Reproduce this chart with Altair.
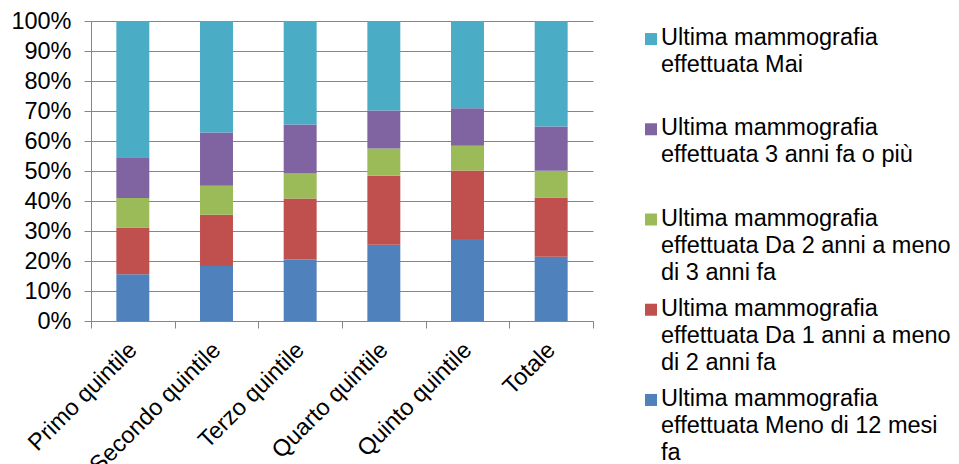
import altair as alt
import pandas as pd

# Categories (income quintiles) and the five mammography-recency groups
categories = ["Primo quintile", "Secondo quintile", "Terzo quintile",
              "Quarto quintile", "Quinto quintile", "Totale"]
series = ["Meno di 12 mesi", "Da 1 anni a meno di 2 anni fa",
          "Da 2 anni a meno di 3 anni fa", "3 anni fa o più", "Mai"]
legend_labels = [
    "Ultima mammografia\neffettuata Meno di 12 mesi\nfa",
    "Ultima mammografia\neffettuata Da 1 anni a meno\ndi 2 anni fa",
    "Ultima mammografia\neffettuata Da 2 anni a meno\ndi 3 anni fa",
    "Ultima mammografia\neffettuata 3 anni fa o più",
    "Ultima mammografia\neffettuata Mai",
]
colors = ["#4F81BD", "#C0504D", "#9BBB59", "#8064A2", "#4BACC6"]

# Percentage shares per category (each column sums to ~100)
meno_12_mesi = [15.6, 18.3, 20.5, 25.4, 27.3, 21.4]
da_1_a_2_anni = [15.6, 17.1, 20.3, 23.0, 22.9, 19.8]
da_2_a_3_anni = [9.8, 9.7, 8.4, 9.1, 8.2, 8.9]
tre_anni_o_piu = [13.6, 17.7, 16.3, 12.7, 12.5, 14.7]
mai = [45.4, 37.2, 34.5, 29.8, 29.1, 35.2]

values_by_series = [meno_12_mesi, da_1_a_2_anni, da_2_a_3_anni, tre_anni_o_piu, mai]

rows = []
for k, (name, vals) in enumerate(zip(series, values_by_series)):
    for cat, v in zip(categories, vals):
        rows.append({"categoria": cat, "serie": name, "valore": v, "ordine": k})
df = pd.DataFrame(rows)

legend_df = pd.DataFrame({
    "serie": series,
    "etichetta": legend_labels,
})
legend_order = list(reversed(series))

FONT = "Liberation Sans"
FS = 23.5
GRID = "#868686"

color_scale = alt.Scale(domain=series, range=colors)

bars = alt.Chart(df).mark_bar(width=alt.RelativeBandSize(0.394)).encode(
    x=alt.X(
        "categoria:N", sort=categories, title=None,
        scale=alt.Scale(paddingInner=0, paddingOuter=0),
        axis=alt.Axis(
            labelAngle=-45, labelAlign="right", labelBaseline="middle",
            labelPadding=18, tickBand="extent", tickSize=7, grid=False,
            domainColor=GRID, tickColor=GRID, labelFont=FONT,
            labelFontSize=FS, labelColor="black",
        ),
    ),
    y=alt.Y(
        "valore:Q", stack="normalize", title=None,
        scale=alt.Scale(domain=[0, 1], nice=False),
        axis=alt.Axis(
            values=[i / 10 for i in range(11)], format=".0%",
            tickSize=7, labelPadding=13, grid=True, gridColor=GRID,
            domainColor=GRID, tickColor=GRID, labelFont=FONT,
            labelFontSize=FS, labelColor="black",
            minExtent=81, maxExtent=81,
        ),
    ),
    color=alt.Color("serie:N", scale=color_scale, legend=None),
    order=alt.Order("ordine:Q", sort="ascending"),
).properties(width=502, height=300)

legend_y = alt.Y("serie:N", sort=legend_order, title=None,
                 scale=alt.Scale(type="point", padding=0.2), axis=None)

legend_squares = alt.Chart(legend_df).mark_square(size=144, opacity=1).encode(
    x=alt.value(9),
    y=legend_y,
    color=alt.Color("serie:N", scale=color_scale, legend=None),
)

legend_text = alt.Chart(legend_df).mark_text(
    align="left", baseline="top", dy=-13, lineBreak="\n", lineHeight=27,
    font=FONT, fontSize=FS, color="black",
).encode(
    x=alt.value(19),
    y=legend_y,
    text="etichetta:N",
)

legend = (legend_squares + legend_text).properties(width=300, height=397)

chart = alt.hconcat(bars, legend, spacing=48).properties(
    padding={"left": 10, "top": 9, "right": 0, "bottom": 0},
).configure_view(stroke=None)

chart.save("out.html", embed_options={"renderer": "svg", "actions": False})
